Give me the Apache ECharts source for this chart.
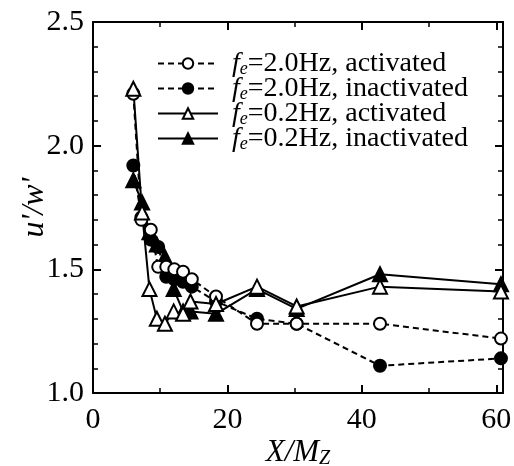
<!DOCTYPE html>
<html><head><meta charset="utf-8">
<script src="https://cdn.jsdelivr.net/npm/echarts@6/dist/echarts.min.js"></script>
<style>html,body{margin:0;padding:0;background:#fff}#c{width:514px;height:466px}</style>
</head><body><div id="c"></div>
<script>
var xs20 = [6, 7.2, 8.6, 9.7, 10.9, 12.1, 13.4, 14.7, 18.3, 24.4, 30.3, 42.7, 60.7];
var act20 = [2.21, 1.70, 1.66, 1.51, 1.51, 1.50, 1.49, 1.46, 1.39, 1.28, 1.28, 1.28, 1.22];
var inact20 = [1.92, 1.71, 1.62, 1.59, 1.47, 1.46, 1.45, 1.43, 1.37, 1.30, 1.28, 1.11, 1.14];
var xs02 = [6, 7.3, 8.4, 9.5, 10.7, 12.0, 13.4, 14.5, 18.3, 24.4, 30.3, 42.7, 60.7];
var act02 = [2.23, 1.73, 1.42, 1.30, 1.28, 1.33, 1.32, 1.37, 1.36, 1.43, 1.35, 1.43, 1.41];
var inact02 = [1.86, 1.77, 1.65, 1.60, 1.55, 1.42, 1.33, 1.33, 1.32, 1.42, 1.34, 1.48, 1.44];
var names = ['2.0Hz, activated', '2.0Hz, inactivated', '0.2Hz, activated', '0.2Hz, inactivated'];
var xTicks = [0, 20, 40, 60];
var yTicks = [1.0, 1.5, 2.0, 2.5];

function pairs(xs, ys) { return xs.map(function (x, i) { return [x, ys[i]]; }); }
var F = 'Liberation Serif';
function mkSeries(name, xs, ys, sym, filled, dashed, size) {
  return {
    name: name, type: 'line', data: pairs(xs, ys), symbol: sym, symbolSize: size,
    lineStyle: { color: '#000', width: 2, type: dashed ? [6, 4] : 'solid' },
    itemStyle: { color: filled ? '#000' : '#fff', borderColor: '#000', borderWidth: 2 },
    z: filled ? 3 : 4, animation: false
  };
}
var axisCommon = {
  axisLine: { show: true, onZero: false, lineStyle: { color: '#000', width: 2 } },
  axisTick: { show: true, inside: true, length: 8, lineStyle: { color: '#000', width: 2 } },
  splitLine: { show: false },
  nameMoveOverlap: false
};
function xAx(pos, showLabel) {
  return Object.assign({
    type: 'value', position: pos, min: 0, max: 61, interval: 20,
    axisLabel: { show: showLabel, showMaxLabel: false, margin: 12, color: '#000', fontFamily: F, fontSize: 30,
      formatter: function (v) { return xTicks.indexOf(v) >= 0 ? String(v) : ''; } },
    name: showLabel ? '{i|X/M}{s|Z}' : '', nameLocation: 'middle', nameGap: 43,
    nameTextStyle: { rich: { i: { fontFamily: F, fontStyle: 'italic', fontSize: 31, color: '#000' },
      s: { fontFamily: F, fontStyle: 'italic', fontSize: 20, color: '#000', padding: [13, 0, 0, 0] } } },
    minorTick: { show: true, splitNumber: 2, length: 5, lineStyle: { color: '#000', width: 1.5 } }
  }, axisCommon);
}
function yAx(pos, showLabel) {
  return Object.assign({
    type: 'value', position: pos, min: 1, max: 2.5, interval: 0.5,
    axisLabel: { show: showLabel, margin: 9, color: '#000', fontFamily: F, fontSize: 30,
      formatter: function (v) { return yTicks.indexOf(v) >= 0 ? v.toFixed(1) : ''; } },
    name: showLabel ? "u'/w'" : '', nameLocation: 'middle', nameGap: 42, nameRotate: 90,
    nameTextStyle: { fontFamily: F, fontStyle: 'italic', fontSize: 32, color: '#000' },
    minorTick: { show: true, splitNumber: 5, length: 5, lineStyle: { color: '#000', width: 1.5 } }
  }, axisCommon);
}
var chart = echarts.init(document.getElementById('c'), null, { renderer: 'canvas' });
chart.setOption({
  animation: false,
  grid: { left: 93, right: 11, top: 22, bottom: 73, containLabel: false, outerBoundsMode: 'none' },
  xAxis: [xAx('bottom', true), xAx('top', false)],
  yAxis: [yAx('left', true), yAx('right', false)],
  legend: {
    orient: 'vertical', left: 157, top: 49, itemWidth: 60, itemHeight: 13, itemGap: -4, padding: 0,
    data: names,
    formatter: function (n) { return '{f|f}{e|e}{t|=' + n + '}'; },
    textStyle: { color: '#000', fontFamily: F, fontSize: 28,
      rich: { f: { fontFamily: F, fontStyle: 'italic', fontSize: 28, color: '#000', padding: [0, 0, 0, 9], lineHeight: 24 },
        e: { fontFamily: F, fontStyle: 'italic', fontSize: 18, color: '#000', padding: [11, 0, 0, 0], lineHeight: 24 },
        t: { fontFamily: F, fontSize: 28, color: '#000', lineHeight: 24 } } }
  },
  series: [
    mkSeries(names[0], xs20, act20, 'circle', false, true, 12),
    mkSeries(names[1], xs20, inact20, 'circle', true, true, 12),
    mkSeries(names[2], xs02, act02, 'triangle', false, false, 14),
    mkSeries(names[3], xs02, inact02, 'triangle', true, false, 14)
  ]
});
</script></body></html>
